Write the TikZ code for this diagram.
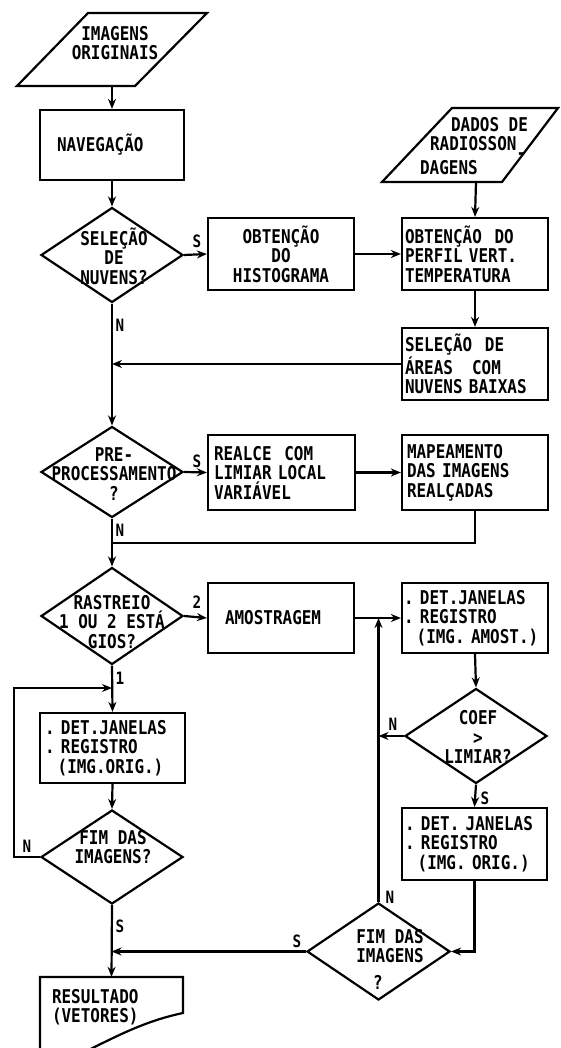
\documentclass[tikz,border=0pt]{standalone}
\usepackage{fontspec}
\setmainfont{DejaVu Sans Mono}[FakeStretch=0.84]
\usetikzlibrary{shapes.geometric,arrows.meta}
\begin{document}
\begin{tikzpicture}[x=1pt,y=-1pt,
  every node/.style={font=\bfseries\fontsize{19pt}{19.5pt}\selectfont},
  ln/.style={line width=2.2pt},
  arr/.style={line width=2.2pt,-{Stealth[length=10pt,width=8pt]}},
  box/.style={draw,line width=2.2pt,inner ysep=0pt,align=left},
  dia/.style={draw,shape=diamond,line width=2.2pt,inner sep=0pt,minimum width=142pt,minimum height=#1},
  txt/.style={align=center,inner sep=0pt},
  lab/.style={inner sep=0pt,font=\bfseries\fontsize{17pt}{17pt}\selectfont}]
\useasboundingbox (0,0) rectangle (560,1048);

% input parallelograms
\draw[ln] (88,13) -- (207,13) -- (135,86) -- (17,86) -- cycle;
\coordinate (p1b) at (112,86);
\node[txt] (p1t) at (115,43) {IMAGENS\\ORIGINAIS};

\draw[ln] (452,108) -- (558,108) -- (502,182) -- (382,182) -- cycle;
\coordinate (p2b) at (476,182);
\node[align=left,inner sep=0pt] (p2t) at (474,146) {\hspace*{31pt}DADOS DE\\\hspace*{10pt}RADIOSSON\raisebox{-9pt}{-}\\DAGENS};

% boxes
\node[box,minimum width=144pt,minimum height=70pt,inner xsep=17pt,text width=110pt] (nav) at (112,145) {NAVEGAÇÃO};
\node[box,minimum width=146pt,minimum height=72pt,inner xsep=3pt,text width=140pt,align=center] (hist) at (281,254) {OBTENÇÃO\\DO\\HISTOGRAMA};
\node[box,minimum width=146pt,minimum height=72pt,inner xsep=3pt,text width=140pt] (perfil) at (475,254) {OBTENÇÃO~~DO\\PERFIL VERT.\\TEMPERATURA};
\node[box,minimum width=146pt,minimum height=72pt,inner xsep=3pt,text width=140pt] (areas) at (475,364) {SELEÇÃO~~DE\\ÁREAS~~~COM\\NUVENS BAIXAS};
\node[box,minimum width=147pt,minimum height=75pt,inner xsep=6pt,text width=135pt] (realce) at (281.5,472.5) {REALCE~~COM\\LIMIAR LOCAL\\VARIÁVEL};
\node[box,minimum width=146pt,minimum height=75pt,inner xsep=5pt,text width=136pt] (map) at (475,472.5) {MAPEAMENTO\\DAS IMAGENS\\REALÇADAS};
\node[box,minimum width=146pt,minimum height=70pt,inner xsep=17pt,text width=112pt] (amos) at (281,618) {\raisebox{-8pt}{AMOSTRAGEM}};
\node[box,minimum width=146pt,minimum height=70pt,inner xsep=2pt,text width=142pt] (deta) at (475,618) {.~DET.JANELAS\\.~REGISTRO\\~~(IMG.~AMOST.)};
\node[box,minimum width=145pt,minimum height=72pt,inner xsep=3pt,text width=139pt] (deto) at (474.5,844) {.~DET.~JANELAS\\.~REGISTRO\\~~(IMG.~ORIG.)};
\node[box,minimum width=145pt,minimum height=70pt,inner xsep=5pt,text width=135pt] (detl) at (112.5,748) {.~DET.JANELAS\\.~REGISTRO\\~~(IMG.ORIG.)};

% decisions
\node[dia=95pt] (d1) at (112,255) {};
\node[txt] (d1t) at (114,256) {SELEÇÃO\\DE\\NUVENS?};
\node[dia=91pt] (d2) at (112,472) {};
\node[txt] (d2t) at (114,474) {PRE-\\PROCESSAMENTO\\?};
\node[dia=97pt] (d3) at (112,616) {};
\node[txt] (d3t) at (112,622) {RASTREIO\\1 OU 2 ESTÁ\\GIOS?};
\node[dia=95pt] (d4) at (476,736) {};
\node[txt] (d4t) at (478,737) {COEF\\>\\LIMIAR?};
\node[dia=94pt] (d5) at (112,857) {};
\node[txt] (d5t) at (113,847) {FIM DAS\\IMAGENS?};
\node[draw,shape=diamond,line width=2.2pt,inner sep=0pt,minimum width=143pt,minimum height=97pt] (d6) at (378.5,951.5) {};
\node[txt] (d6t) at (390,946) {FIM DAS\\IMAGENS};
\node[txt] (d6q) at (378,982) {?};

% output document
\begin{scope}
\clip (0,0) rectangle (560,1048);
\draw[ln] (40,1060) -- (40,977) -- (183,977) -- (183,1013) .. controls (140,1022) and (110,1040) .. (68,1060);
\end{scope}
\node[inner xsep=12pt,inner ysep=0pt,minimum width=143pt,minimum height=60pt,text width=119pt,align=left] (res) at (111.5,1007) {RESULTADO\\(VETORES)};

% connectors
\draw[arr] (p1b) -- (nav.north);
\draw[arr] (nav.south) -- (d1.north);
\draw[arr] (d1.east) -- (hist.west);
\draw[arr] (hist.east) -- (perfil.west);
\draw[arr] (p2b) -- (perfil.north);
\draw[arr] (perfil.south) -- (areas.north);
\draw[arr] (areas.west) -- (areas.west -| d1.south);
\draw[arr] (d1.south) -- (d2.north);
\draw[arr] (d2.east) -- (realce.west);
\draw[arr] (realce.east) -- (map.west);
\coordinate (j2) at (112,543);
\draw[ln] (map.south) |- (j2);
\draw[arr] (d2.south) -- (d3.north);
\draw[arr] (d3.east) -- (amos.west);
\draw[arr] (amos.east) -- (deta.west);
\draw[arr] (deta.south) -- (d4.north);
\draw[arr] (d4.west) -- (d4.west -| d6.north);
\draw[arr] (d6.north) -- (d6.north |- amos.east);
\draw[arr] (d4.south) -- (deto.north);
\draw[arr] (deto.south) |- (d6.east);
\draw[arr] (d6.west) -- (d6.west -| res.north);
\draw[arr] (d3.south) -- (detl.north);
\coordinate (j4) at (112,688);
\draw[arr] (d5.west) -- ++(-26,0) |- (j4);
\draw[arr] (detl.south) -- (d5.north);
\draw[arr] (d5.south) -- (res.north);

% branch labels
\node[lab] (l1) at (197,241) {S};
\node[lab] (l2) at (120,325) {N};
\node[lab] (l3) at (197,461) {S};
\node[lab] (l4) at (120,530) {N};
\node[lab] (l5) at (197,602) {2};
\node[lab] (l6) at (120,678) {1};
\node[lab] (l7) at (393,724) {N};
\node[lab] (l8) at (485,798) {S};
\node[lab] (l9) at (390,897) {N};
\node[lab] (l10) at (297,941) {S};
\node[lab] (l11) at (27,846) {N};
\node[lab] (l12) at (120,926) {S};
\end{tikzpicture}
\end{document}
